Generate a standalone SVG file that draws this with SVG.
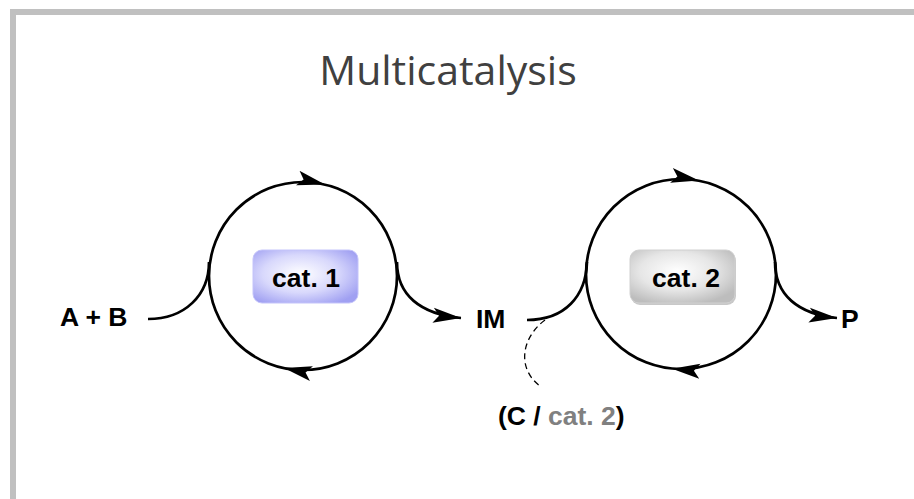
<svg xmlns="http://www.w3.org/2000/svg" width="914" height="499" viewBox="0 0 914 499">
  <style>
    .lbl { font-family: "Liberation Sans", Arial, sans-serif; font-weight: bold; font-size: 26.5px; fill: #000; }
    .title { font-family: "Open Sans", "Liberation Sans", sans-serif; font-size: 41px; fill: #404040; }
    .cycle { fill: none; stroke: #000; stroke-width: 2.7; }
    .conn { fill: none; stroke: #000; stroke-width: 2.7; }
    .dash { fill: none; stroke: #000; stroke-width: 1.3; stroke-dasharray: 6 4; }
    .tick { fill: none; stroke: none; }
  </style>
  <defs>
    <!-- barbed arrowhead, tip at the path end -->
    <marker id="ah" markerUnits="userSpaceOnUse" markerWidth="30" markerHeight="20" viewBox="0 0 30 20" refX="28" refY="10" orient="auto">
      <path d="M0,2.5 L28,10 L0,17.5 L6,10 Z" fill="#000"/>
    </marker>
    <radialGradient id="gBlue" cx="45%" cy="45%" r="65%">
      <stop offset="0" stop-color="#ffffff"/>
      <stop offset="0.55" stop-color="#d8d8fc"/>
      <stop offset="1" stop-color="#a0a0f2"/>
    </radialGradient>
    <radialGradient id="gGray" cx="45%" cy="40%" r="65%">
      <stop offset="0" stop-color="#ffffff"/>
      <stop offset="0.55" stop-color="#e6e6e6"/>
      <stop offset="1" stop-color="#bdbdbd"/>
    </radialGradient>
  </defs>

  <rect width="914" height="499" fill="#fff"/>
  <!-- frame: top and left edges only -->
  <path d="M13,499 L13,12 L914,12" fill="none" stroke="#c0c0c0" stroke-width="6"/>

  <text class="title" x="448" y="85" text-anchor="middle">Multicatalysis</text>

  <!-- first catalytic cycle -->
  <g id="cycle1">
    <circle class="cycle" cx="303" cy="276" r="94"/>
    <path class="tick" d="M297,182.19 A94,94 0 0 1 325,184.6" marker-end="url(#ah)"/>
    <path class="tick" d="M310,369.74 A94,94 0 0 1 284,368.1" marker-end="url(#ah)"/>
    <rect x="253" y="250" width="105" height="53" rx="9" fill="url(#gBlue)" stroke="#c4c4fa" stroke-width="1"/>
    <text class="lbl" x="306" y="287" text-anchor="middle">cat. 1</text>
  </g>

  <!-- second catalytic cycle -->
  <g id="cycle2">
    <circle class="cycle" cx="681" cy="274" r="95"/>
    <path class="tick" d="M673,179.34 A95,95 0 0 1 699,180.6" marker-end="url(#ah)"/>
    <path class="tick" d="M697,367.64 A95,95 0 0 1 672,368.7" marker-end="url(#ah)"/>
    <rect x="631" y="252" width="105" height="53" rx="9" fill="#c8c8c8"/>
    <rect x="630" y="250" width="105" height="53" rx="9" fill="url(#gGray)" stroke="#d0d0d0" stroke-width="1"/>
    <text class="lbl" x="686" y="287" text-anchor="middle">cat. 2</text>
  </g>

  <g id="AB"><text class="lbl" x="60" y="326">A + B</text></g>
  <g id="IM"><text class="lbl" x="476" y="328">IM</text></g>
  <g id="P"><text class="lbl" x="841" y="328">P</text></g>
  <g id="C">
    <text class="lbl" x="498" y="425">(C / <tspan fill="#808080">cat. 2</tspan>)</text>
  </g>

  <g id="connectors">
    <path class="conn" d="M148,319 C185,319 209,295 209,262"/>
    <path class="conn" d="M397,262 C397,295 420,314 461,318" marker-end="url(#ah)"/>
    <path class="conn" d="M527,320 C565,320 586,296 587,262"/>
    <path class="conn" d="M775,262 C775,295 798,314 837,318" marker-end="url(#ah)"/>
    <path class="dash" d="M545,320 C522,337 516,368 540,386"/>
  </g>
</svg>
